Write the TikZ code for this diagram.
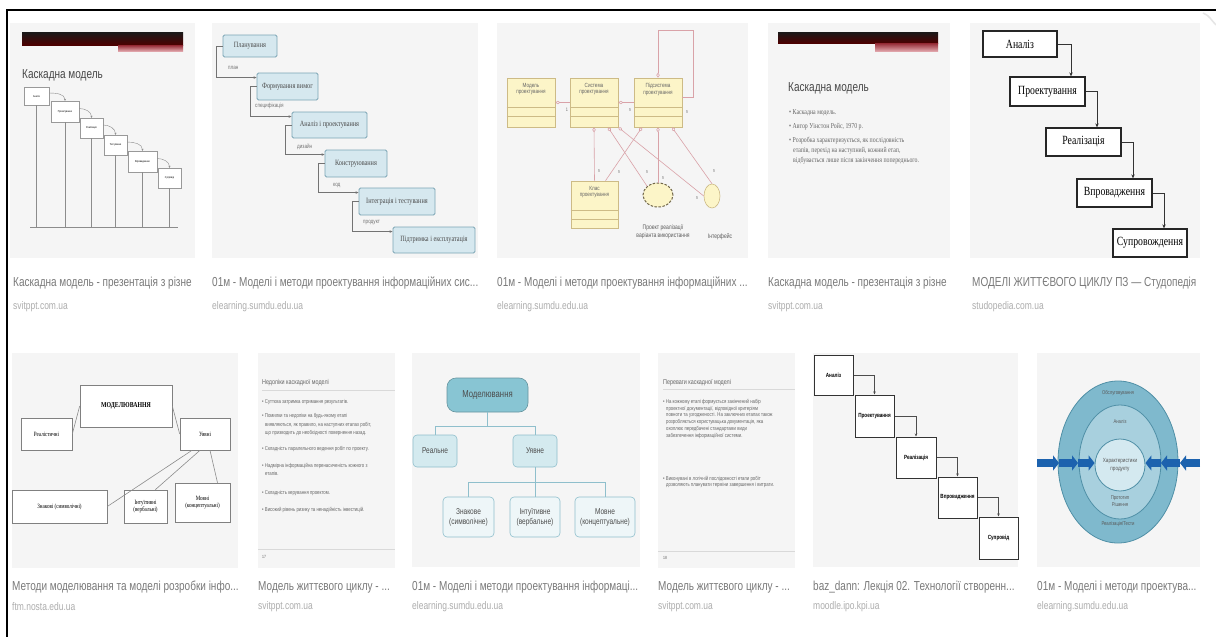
\documentclass[tikz,border=0pt]{standalone}
\usepackage{fontspec}
\setmainfont{Liberation Sans}
\newfontfamily\capfont[FakeStretch=0.77]{Liberation Sans}
\newfontfamily\serfont[FakeStretch=0.78]{Liberation Serif}
\usetikzlibrary{arrows.meta, positioning, fit, shapes.geometric}
\definecolor{thumbgray}{HTML}{F5F5F5}
\definecolor{capgray}{HTML}{7A7A7A}
\definecolor{urlgray}{HTML}{ADADAD}
\definecolor{slidered}{HTML}{B8323F}
\definecolor{waterblue}{HTML}{D6E8EF}
\definecolor{waterline}{HTML}{7BA4B4}
\definecolor{umlfill}{HTML}{FCF5C8}
\definecolor{umlline}{HTML}{CDBB86}
\definecolor{umlpink}{HTML}{D9A2A8}
\definecolor{treeteal}{HTML}{88C5D3}
\definecolor{treelight}{HTML}{D4EAEF}
\definecolor{treepale}{HTML}{EEF6F8}
\definecolor{treeline}{HTML}{8FBFCC}
\definecolor{ringout}{HTML}{7FB9CD}
\definecolor{ringmid}{HTML}{A8D0DE}
\definecolor{ringin}{HTML}{D4E9F0}
\definecolor{ringedge}{HTML}{4F8FA6}
\definecolor{arrowblue}{HTML}{1C62AE}

\begin{document}
\begin{tikzpicture}[x=1pt, y=-1pt,
  thumb/.style={fill=thumbgray},
  caption/.style={anchor=west, inner sep=0pt, text=capgray, font=\capfont\fontsize{13}{15}\selectfont},
  srcurl/.style={anchor=west, inner sep=0pt, text=urlgray, font=\capfont\fontsize{11}{13}\selectfont},
  slidetitle/.style={anchor=west, inner sep=0pt, text=black!72, font=\capfont\fontsize{13}{15}\selectfont},
  cascbox/.style={draw=black!40, fill=white, line width=0.4pt, inner sep=0pt},
  casctext/.style={inner sep=0pt, font=\capfont\fontsize{2.8}{3}\selectfont},
  cascline/.style={draw=black!45, line width=0.4pt},
  lifebox/.style={draw=waterline, fill=waterblue, line width=0.9pt, rounded corners=1.5pt, inner sep=0pt},
  lifetext/.style={inner sep=0pt, text=black!70, font=\serfont\fontsize{8}{9}\selectfont},
  lifelink/.style={draw=black!55, line width=0.5pt, -{Stealth[length=3pt, width=2.6pt]}},
  lifelbl/.style={anchor=west, inner sep=0pt, text=black!55, font=\capfont\fontsize{6}{6}\selectfont},
  umlclass/.style={draw=umlline, fill=umlfill, line width=0.6pt, inner sep=0pt},
  umlname/.style={inner sep=0pt, align=center, text=black!60, font=\capfont\fontsize{6}{6.8}\selectfont},
  umllink/.style={draw=umlpink, line width=0.6pt, {Diamond[open, length=5pt, width=3.4pt]}-},
  umlmult/.style={inner sep=0pt, text=black!55, font=\capfont\fontsize{5}{5}\selectfont},
  umlnote/.style={inner sep=0pt, align=center, text=black!65, font=\capfont\fontsize{6.5}{8}\selectfont},
  stairbox/.style={draw=black!85, fill=white, line width=1.3pt, inner sep=0pt},
  stairtext/.style={inner sep=0pt, font=\serfont\fontsize{12.5}{14}\selectfont},
  stairlink/.style={draw=black!80, line width=0.9pt, -{Stealth[length=4pt, width=3.5pt]}},
  slidetext/.style={anchor=north west, inner sep=0pt, align=left, text=black!60},
  treebox/.style={draw=black!50, fill=white, line width=0.6pt, inner sep=0pt},
  treetext/.style={inner sep=0pt, align=center, font=\serfont\fontsize{6.5}{7.5}\selectfont},
  treelink/.style={draw=black!45, line width=0.6pt},
  kindbox/.style={rounded corners=4pt, line width=0.6pt, inner sep=0pt},
  kindtext/.style={inner sep=0pt, align=center, text=black!70, font=\capfont\fontsize{8.5}{10}\selectfont},
  kindlink/.style={draw=treeline, line width=0.7pt},
  smallbox/.style={draw=black!80, fill=white, line width=1pt, inner sep=0pt},
  smalltext/.style={inner sep=0pt, font=\capfont\bfseries\fontsize{6}{7}\selectfont},
  smalllink/.style={draw=black!70, line width=0.5pt, -{Stealth[length=3pt, width=2.5pt]}},
  ringtext/.style={inner sep=0pt, align=center, text=black!65, font=\capfont\fontsize{5.5}{6.5}\selectfont},
  bluearrow/.style={draw=arrowblue, line width=8pt, -{Triangle[length=6pt, width=15pt]}}
]
\useasboundingbox (0,0) rectangle (1216,637);
\fill[white] (0,0) rectangle (1216,637);
\draw[line width=1.6pt] (7,637) -- (7,10) -- (1216,10);
\draw[black!10, line width=1.5pt] (1203,13) to[out=-20, in=135] (1216,25);

%% top row, 1: cascade slide
\fill[thumb] (10,23) rectangle (195,258);
\shade[top color=black!90, bottom color=black!70!red] (22,32) rectangle (183,45);
\shade[top color=slidered!80!black, bottom color=slidered!45] (118,45) rectangle (183,51);
\node[slidetitle] (t1title) at (22,75) {Каскадна модель};
\node[cascbox, fit={(24,87) (49,105)}, label={[casctext]center:Аналіз}] (t1a) {};
\node[cascbox, fit={(51,101) (79,122)}, label={[casctext]center:Проектування}] (t1b) {};
\node[cascbox, fit={(80,118) (103,138)}, label={[casctext]center:Реалізація}] (t1c) {};
\node[cascbox, fit={(104,135) (127,155)}, label={[casctext]center:Тестування}] (t1d) {};
\node[cascbox, fit={(128,151) (157,172)}, label={[casctext]center:Впровадження}] (t1e) {};
\node[cascbox, fit={(158,168) (181,188)}, label={[casctext]center:Супровід}] (t1f) {};
\coordinate (t1floor) at (30,227);
\coordinate (t1floorend) at (178,227);
\draw[cascline] (t1floor) -- (t1floorend);
\foreach \b in {t1a,t1b,t1c,t1d,t1e,t1f}
  \draw[cascline] (\b.south) -- (\b.south |- t1floor);
\foreach \p/\q in {t1a/t1b, t1b/t1c, t1c/t1d, t1d/t1e, t1e/t1f}
  \draw[cascline, -{Stealth[length=2pt, width=2pt]}] ([yshift=3pt]\p.east) to[out=0, in=90] (\q.north);

%% top row, 2: life cycle stages
\fill[thumb] (212,23) rectangle (478,258);
\node[lifebox, fit={(223,35) (277,57)}, label={[lifetext]center:Планування}] (t2a) {};
\node[lifebox, fit={(257,73) (318,100)}, label={[lifetext]center:{Формування вимог}}] (t2b) {};
\node[lifebox, fit={(292,112) (367,138)}, label={[lifetext]center:{Аналіз і проектування}}] (t2c) {};
\node[lifebox, fit={(325,150) (387,177)}, label={[lifetext]center:Конструювання}] (t2d) {};
\node[lifebox, fit={(359,188) (435,215)}, label={[lifetext]center:{Інтеграція і тестування}}] (t2e) {};
\node[lifebox, fit={(393,227) (475,253)}, label={[lifetext]center:{Підтримка і експлуатація}}] (t2f) {};
\foreach \p/\q in {t2a/t2b, t2b/t2c, t2c/t2d, t2d/t2e, t2e/t2f}
  \draw[lifelink] (\p.west) -- ++(-6,0) |- ([yshift=-5pt]\q.north west);
\node[lifelbl] (t2la) at (228,68) {план};
\node[lifelbl] (t2lb) at (255,106) {специфікація};
\node[lifelbl] (t2lc) at (297,147) {дизайн};
\node[lifelbl] (t2ld) at (333,185) {код};
\node[lifelbl] (t2le) at (363,223) {продукт};

%% top row, 3: design classes
\fill[thumb] (497,23) rectangle (748,258);
\node[umlclass, fit={(507,78) (555,127)}] (u1) {};
\node[umlclass, fit={(570,78) (618,127)}] (u2) {};
\node[umlclass, fit={(634,78) (682,127)}] (u3) {};
\node[umlclass, fit={(571,181) (618,228)}] (u4) {};
\foreach \c in {u1,u2,u3,u4} {
  \draw[umlline, line width=0.6pt] ([yshift=-30pt]\c.north west) -- ([yshift=-30pt]\c.north east);
  \draw[umlline, line width=0.6pt] ([yshift=-39pt]\c.north west) -- ([yshift=-39pt]\c.north east);
}
\node[umlname, below=5pt of u1.north] (u1name) {Модель\\проектування};
\node[umlname, below=5pt of u2.north] (u2name) {Система\\проектування};
\node[umlname, below=5pt of u3.north] (u3name) {Підсистема\\проектування};
\node[umlname, below=5pt of u4.north] (u4name) {Клас\\проектування};
\node[ellipse, draw=black!45!umlline, dash pattern=on 2.5pt off 1.5pt, line width=1pt, fill=umlfill, minimum width=30pt, minimum height=24pt, inner sep=0pt] (ucase) at (658,195) {};
\node[ellipse, draw=umlline, fill=umlfill, line width=0.6pt, minimum width=16pt, minimum height=24pt, inner sep=0pt] (iface) at (712,196) {};
\coordinate (u3loop) at (693,30);
\draw[umllink] (u1.east) -- (u2.west);
\draw[umllink] (u2.east) -- (u3.west);
\draw[umllink] (u3.north) |- (u3loop) |- ([yshift=5pt]u3.east);
\draw[umllink] (u2.south) -- (u4.north);
\draw[umllink] ([xshift=14pt]u2.south) -- (ucase.north west);
\draw[umllink] (u2.south east) -- (iface.west);
\draw[umllink] ([xshift=-16pt]u3.south) -- ([xshift=11pt]u4.north);
\draw[umllink] (u3.south) -- (ucase.north);
\draw[umllink] ([xshift=14pt]u3.south) -- (iface.north);
\node[umlmult] (m1) at (567,110) {1};
\foreach \mx/\my in {630/110, 687/112, 599/171, 619/172, 647/172, 663/178, 697/198, 714/171}
  \node[umlmult] at (\mx,\my) {n};
\node[umlnote] (ucasetext) at (663,232) {Проект реалізації\\варіанта використання};
\node[umlnote] (ifacetext) at (720,237) {Інтерфейс};

%% top row, 4: cascade slide with bullets
\fill[thumb] (768,23) rectangle (950,258);
\shade[top color=black!90, bottom color=black!70!red] (778,32) rectangle (938,43);
\shade[top color=slidered!80!black, bottom color=slidered!45] (875,43) rectangle (938,51);
\node[slidetitle] (t4title) at (788,88) {Каскадна модель};
\node[slidetext, font=\serfont\fontsize{7.5}{10}\selectfont] (t4text) at (789,109)
  {• Каскадна модель.\\[4pt]
   • Автор Уінстон Ройс, 1970 р.\\[4pt]
   • Розробка характеризується, як послідовність\\
   \hspace*{4pt}етапів, перехід на наступний, кожний етап,\\
   \hspace*{4pt}відбувається лише після закінчення попереднього.};

%% top row, 5: stair of stages
\fill[thumb] (970,23) rectangle (1200,258);
\node[stairbox, fit={(983,31) (1057,57)}, label={[stairtext]center:Аналіз}] (t5a) {};
\node[stairbox, fit={(1010,77) (1085,106)}, label={[stairtext]center:Проектування}] (t5b) {};
\node[stairbox, fit={(1046,128) (1121,156)}, label={[stairtext]center:Реалізація}] (t5c) {};
\node[stairbox, fit={(1077,179) (1152,207)}, label={[stairtext]center:Впровадження}] (t5d) {};
\node[stairbox, fit={(1113,229) (1187,257)}, label={[stairtext]center:Супровождення}] (t5e) {};
\draw[stairlink] (t5a.east) -| ([xshift=23.5pt]t5b.north);
\draw[stairlink] (t5b.east) -| ([xshift=13.5pt]t5c.north);
\draw[stairlink] (t5c.east) -| ([xshift=18.5pt]t5d.north);
\draw[stairlink] (t5d.east) -| ([xshift=14pt]t5e.north);

%% top captions
\node[caption] (cap1) at (13,283) {Каскадна модель - презентація з різне};
\node[srcurl] (url1) at (13,307) {svitppt.com.ua};
\node[caption] (cap2) at (212,283) {01м - Моделі і методи проектування інформаційних сис...};
\node[srcurl] (url2) at (212,307) {elearning.sumdu.edu.ua};
\node[caption] (cap3) at (497,283) {01м - Моделі і методи проектування інформаційних ...};
\node[srcurl] (url3) at (497,307) {elearning.sumdu.edu.ua};
\node[caption] (cap4) at (768,283) {Каскадна модель - презентація з різне};
\node[srcurl] (url4) at (768,307) {svitppt.com.ua};
\node[caption] (cap5) at (972,283) {МОДЕЛІ ЖИТТЄВОГО ЦИКЛУ ПЗ — Студопедія};
\node[srcurl] (url5) at (972,307) {studopedia.com.ua};

%% bottom row, 1: kinds of modelling
\fill[thumb] (12,353) rectangle (238,568);
\node[treebox, fit={(80,385) (172,427)}, label={[treetext, font=\serfont\bfseries\fontsize{7.5}{8}\selectfont]center:МОДЕЛЮВАННЯ}] (b1top) {};
\node[treebox, fit={(21,418) (72,450)}, label={[treetext]center:Реалістичні}] (b1real) {};
\node[treebox, fit={(180,418) (230,450)}, label={[treetext]center:Уявні}] (b1ideal) {};
\node[treebox, fit={(12,490) (107,523)}, label={[treetext]center:{Знакові (символічні)}}] (b1sign) {};
\node[treebox, fit={(124,490) (167,523)}, label={[treetext]center:{Інтуїтивні\\(вербальні)}}] (b1intu) {};
\node[treebox, fit={(175,483) (230,522)}, label={[treetext]center:{Мовні\\(концептуальні)}}] (b1lang) {};
\draw[treelink] (b1top.west) -- (b1real.east);
\draw[treelink] (b1top.east) -- (b1ideal.west);
\draw[treelink] ([xshift=-13pt]b1ideal.south) -- (b1sign.east);
\draw[treelink] ([xshift=-5pt]b1ideal.south) -- ([xshift=-12pt]b1intu.north east);
\draw[treelink] ([xshift=5pt]b1ideal.south) -- ([xshift=15pt]b1lang.north);

%% bottom row, 2: drawbacks slide
\fill[thumb] (258,353) rectangle (395,568);
\node[slidetext, anchor=west, font=\capfont\fontsize{7}{8}\selectfont] (b2title) at (262,383) {Недоліки каскадної моделі};
\draw[black!15, line width=0.6pt] (262,390) -- (395,390);
\node[slidetext, font=\capfont\fontsize{5.6}{8.4}\selectfont] (b2text) at (262,399)
  {• Суттєва затримка отримання результатів.\\[6pt]
   • Помилки та недоліки на будь-якому етапі\\
   \hspace*{3pt}виявляються, як правило, на наступних етапах робіт,\\
   \hspace*{3pt}що призводить до необхідності повернення назад.\\[8pt]
   • Складність паралельного ведення робіт по проекту.\\[8pt]
   • Надмірна інформаційна перенасиченість кожного з\\
   \hspace*{3pt}етапів.\\[10pt]
   • Складність керування проектом.\\[9pt]
   • Високий рівень ризику та ненадійність інвестицій.};
\draw[black!15, line width=0.6pt] (258,549) -- (395,549);
\node[slidetext, anchor=west, font=\capfont\fontsize{4.5}{5}\selectfont] (b2page) at (262,557) {17};

%% bottom row, 3: modelling tree
\fill[thumb] (412,353) rectangle (640,567);
\node[kindbox, fit={(447,378) (528,412)}, rounded corners=9pt, fill=treeteal, draw=treeteal!75!black, label={[kindtext, font=\capfont\fontsize{10}{11}\selectfont]center:Моделювання}] (r0) {};
\node[kindbox, fit={(413,435) (457,467)}, fill=treelight, draw=treeline, label={[kindtext]center:Реальне}] (r1) {};
\node[kindbox, fit={(513,435) (557,467)}, fill=treelight, draw=treeline, label={[kindtext]center:Уявне}] (r2) {};
\node[kindbox, fit={(443,497) (494,537)}, fill=treepale, draw=treeline, label={[kindtext]center:{Знакове\\(символічне)}}] (r3) {};
\node[kindbox, fit={(510,497) (560,537)}, fill=treepale, draw=treeline, label={[kindtext]center:{Інтуїтивне\\(вербальне)}}] (r4) {};
\node[kindbox, fit={(575,497) (635,537)}, fill=treepale, draw=treeline, label={[kindtext]center:{Мовне\\(концептуальне)}}] (r5) {};
\draw[kindlink] (r0.south) -- ++(0,14) coordinate (r0fork);
\draw[kindlink] (r0fork) -| (r1.north);
\draw[kindlink] (r0fork) -| (r2.north);
\draw[kindlink] (r2.south) -- ++(0,15) coordinate (r2fork);
\draw[kindlink] (r2fork) -| (r3.north);
\draw[kindlink] (r2fork) -- (r4.north);
\draw[kindlink] (r2fork) -| (r5.north);

%% bottom row, 4: advantages slide
\fill[thumb] (658,353) rectangle (795,568);
\node[slidetext, anchor=west, font=\capfont\fontsize{7}{8}\selectfont] (b4title) at (663,383) {Переваги каскадної моделі};
\draw[black!15, line width=0.6pt] (663,389) -- (795,389);
\node[slidetext, font=\capfont\fontsize{5.6}{6.8}\selectfont] (b4text) at (663,399)
  {• На кожному етапі формується закінчений набір\\
   \hspace*{3pt}проектної документації, відповідної критеріям\\
   \hspace*{3pt}повноти та узгодженості. На заключних етапах також\\
   \hspace*{3pt}розробляється користувацька документація, яка\\
   \hspace*{3pt}охоплює передбачені стандартами види\\
   \hspace*{3pt}забезпечення інформаційної системи.\\[36pt]
   • Виконувані в логічній послідовності етапи робіт\\
   \hspace*{3pt}дозволяють планувати терміни завершення і витрати.};
\draw[black!15, line width=0.6pt] (658,551) -- (795,551);
\node[slidetext, anchor=west, font=\capfont\fontsize{4.5}{5}\selectfont] (b4page) at (663,558) {18};

%% bottom row, 5: small stair
\fill[thumb] (813,353) rectangle (1018,567);
\node[smallbox, fit={(814,355) (853,395)}, label={[smalltext]center:Аналіз}] (s1) {};
\node[smallbox, fit={(855,395) (894,437)}, label={[smalltext]center:Проектування}] (s2) {};
\node[smallbox, fit={(896,437) (936,478)}, label={[smalltext]center:Реалізація}] (s3) {};
\node[smallbox, fit={(938,477) (977,518)}, label={[smalltext]center:Впровадження}] (s4) {};
\node[smallbox, fit={(979,517) (1018,559)}, label={[smalltext]center:Супровід}] (s5) {};
\foreach \p/\q in {s1/s2, s2/s3, s3/s4, s4/s5}
  \draw[smalllink] (\p.east) -| (\q.north);

%% bottom row, 6: rings
\fill[thumb] (1037,353) rectangle (1200,567);
\node[ellipse, fill=ringout, draw=ringedge, line width=0.8pt, minimum width=120pt, minimum height=162pt, inner sep=0pt] (ringa) at (1118,462) {};
\node[ellipse, fill=ringmid, draw=ringedge, line width=0.8pt, minimum width=82pt, minimum height=114pt, inner sep=0pt] (ringb) at (1120,462) {};
\node[ellipse, fill=ringin, draw=ringedge, line width=0.8pt, minimum width=50pt, minimum height=52pt, inner sep=0pt] (ringc) at (1120,465) {};
\node[ringtext] (ra) at (1118,393) {Обслуговування};
\node[ringtext] (rb) at (1120,422) {Аналіз};
\node[ringtext, font=\capfont\fontsize{6}{8}\selectfont] (rc) at (ringc) {Характеристики\\продукту};
\node[ringtext] (rd) at (1120,501) {Прототип\\Рішення};
\node[ringtext] (re) at (1118,524) {Реалізація/Тести};
\coordinate (blueL) at (1037,463);
\coordinate (blueR) at (1200,463);
\draw[bluearrow] (blueL) -- ++(22,0) coordinate (blueL1);
\draw[bluearrow] (blueL1) -- ++(19,0) coordinate (blueL2);
\draw[bluearrow] (blueL2) -- (ringc.west |- blueL);
\draw[bluearrow] (blueR) -- ++(-20,0) coordinate (blueR1);
\draw[bluearrow] (blueR1) -- ++(-19,0) coordinate (blueR2);
\draw[bluearrow] (blueR2) -- (ringc.east |- blueR);

%% bottom captions
\node[caption] (cap6) at (12,587) {Методи моделювання та моделі розробки інфо...};
\node[srcurl] (url6) at (12,607) {ftm.nosta.edu.ua};
\node[caption] (cap7) at (258,587) {Модель життєвого циклу - ...};
\node[srcurl] (url7) at (258,607) {svitppt.com.ua};
\node[caption] (cap8) at (412,587) {01м - Моделі і методи проектування інформаці...};
\node[srcurl] (url8) at (412,607) {elearning.sumdu.edu.ua};
\node[caption] (cap9) at (658,587) {Модель життєвого циклу - ...};
\node[srcurl] (url9) at (658,607) {svitppt.com.ua};
\node[caption] (cap10) at (813,587) {baz\_dann: Лекція 02. Технології створенн...};
\node[srcurl] (url10) at (813,607) {moodle.ipo.kpi.ua};
\node[caption] (cap11) at (1037,587) {01м - Моделі і методи проектува...};
\node[srcurl] (url11) at (1037,607) {elearning.sumdu.edu.ua};
\end{tikzpicture}
\end{document}
